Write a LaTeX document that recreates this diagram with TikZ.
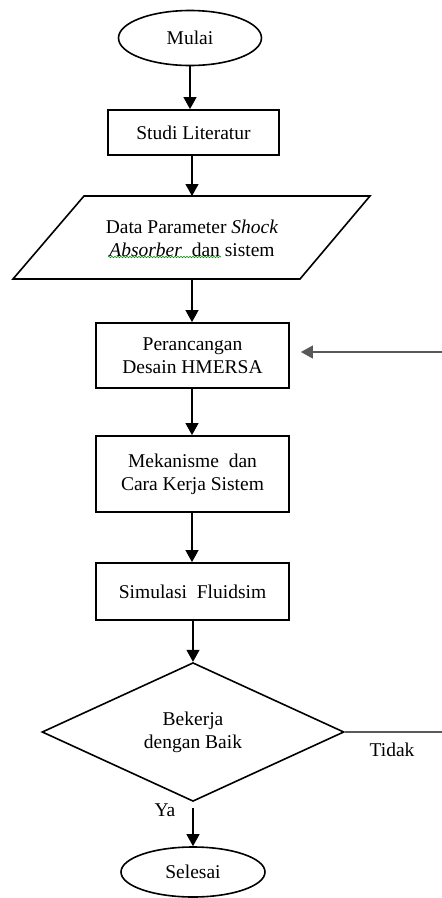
\documentclass[tikz,border=0pt]{standalone}
\usepackage{fontspec}
\setmainfont{Liberation Serif}
\usetikzlibrary{shapes.geometric,arrows.meta,decorations.pathmorphing}
\begin{document}
\begin{tikzpicture}[x=1pt,y=-1pt,
  every node/.style={font=\fontsize{19.5}{23}\selectfont, align=center, inner sep=0pt},
  term/.style={draw, line width=1.6pt, ellipse, minimum width=143pt, minimum height=55pt},
  procbox/.style={draw, line width=1.8pt, rectangle, minimum width=193pt},
  flow/.style={-{Triangle[length=12pt,width=13pt]}, line width=1.2pt},
  grayline/.style={line width=1.1pt, draw=black!65}
]
\useasboundingbox (0,0) rectangle (442,898);

\node[term] (mulai) at (190,38) {Mulai};
\node[procbox, minimum width=171pt, minimum height=45pt] (studi) at (193.5,132.5) {Studi Literatur};

% parallelogram
\coordinate (p1) at (84,196);
\coordinate (p2) at (370,196);
\coordinate (p3) at (300,279);
\coordinate (p4) at (13,279);
\draw[line width=1.6pt] (p1) -- (p2) -- (p3) -- (p4) -- cycle;
\coordinate (dtop) at (192,196);
\coordinate (dbot) at (192,279);
\node (data) at (192,238.5) {Data Parameter \textit{Shock}\\\textit{Absorber}\ \ dan sistem};
\coordinate (wl) at (108,257);
\coordinate (wr) at (221,257);
\draw[green!55!black, line width=0.6pt, decorate, decoration={snake, amplitude=0.7pt, segment length=3pt}] (wl) -- (wr);

\node[procbox, minimum height=65pt] (peran) at (192.5,355.5) {Perancangan\\Desain HMERSA};
\node[procbox, minimum height=76pt] (meka) at (192.5,474) {Mekanisme\ \ dan\\Cara Kerja Sistem};
\node[procbox, minimum height=57pt] (simu) at (192.5,591.5) {Simulasi\ \ Fluidsim};
\node[draw, diamond, line width=1.6pt, minimum width=302pt, minimum height=130pt] (cek) at (193,732) {Bekerja\\dengan Baik};
\node[term, minimum width=144pt, minimum height=50pt] (selesai) at (193,872) {Selesai};

\coordinate (fbin) at (442,352);
\coordinate (tout) at (442,732);

\draw[flow] (mulai.south) -- (mulai.south |- studi.north);
\draw[flow] (dtop |- studi.south) -- (dtop);
\draw[flow] (dbot) -- (peran.north -| dbot);
\draw[flow] (peran.south -| dbot) -- (meka.north -| dbot);
\draw[flow] (meka.south -| dbot) -- (simu.north -| dbot);
\draw[flow] (simu.south -| cek.north) -- (cek.north);
\draw[flow, shorten <=6pt] (cek.south) -- (selesai.north);
\draw[grayline] (cek.east) -- (tout);
\draw[grayline, -{Triangle[length=12pt,width=13pt]}, shorten >=11pt] (fbin) -- (fbin -| peran.east);

\node (tidak) at (392,750) {Tidak};
\node (ya) at (165,810) {Ya};
\end{tikzpicture}
\end{document}
